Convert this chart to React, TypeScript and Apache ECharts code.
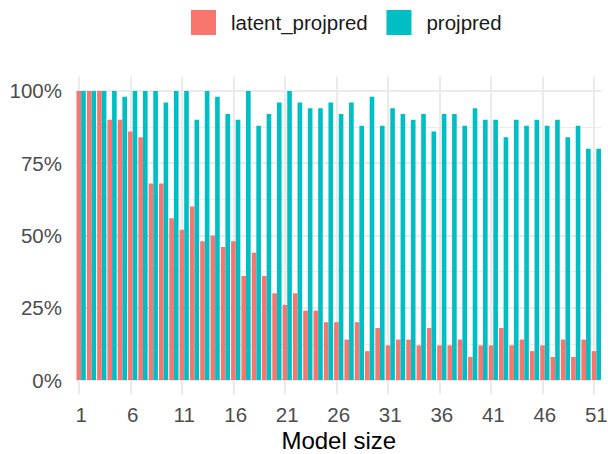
import React, { useEffect, useRef } from "react";
import * as echarts from "echarts";

const categories = [
  "1", "2", "3", "4", "5", "6", "7", "8", "9", "10",
  "11", "12", "13", "14", "15", "16", "17", "18", "19", "20",
  "21", "22", "23", "24", "25", "26", "27", "28", "29", "30",
  "31", "32", "33", "34", "35", "36", "37", "38", "39", "40",
  "41", "42", "43", "44", "45", "46", "47", "48", "49", "50", "51",
];

const latentProjpred = [
  100, 100, 100, 90, 90, 86, 84, 68, 68, 56,
  52, 60, 48, 50, 46, 48, 36, 44, 36, 30,
  26, 30, 24, 24, 20, 20, 14, 20, 10, 18,
  12, 14, 14, 12, 18, 12, 12, 14, 8, 12,
  12, 18, 12, 14, 10, 12, 8, 14, 8, 14, 10,
];

const projpred = [
  100, 100, 100, 100, 98, 100, 100, 100, 96, 100,
  100, 90, 100, 98, 92, 90, 100, 88, 92, 96,
  100, 96, 94, 94, 96, 92, 96, 88, 98, 88,
  94, 92, 90, 92, 86, 92, 92, 88, 94, 90,
  90, 84, 90, 88, 90, 88, 90, 84, 88, 80, 80,
];

const seriesNames = ["latent_projpred", "projpred"];
const yTickValues = [0, 25, 50, 75, 100];
const yMinorBreaks = [12.5, 37.5, 62.5, 87.5];
const xTickLabels = ["1", "6", "11", "16", "21", "26", "31", "36", "41", "46", "51"];

export default function App() {
  const ref = useRef<HTMLDivElement>(null);

  useEffect(() => {
    if (!ref.current) return;
    const chart = echarts.init(ref.current, null, { renderer: "svg" });
    const gridColor = "#EBEBEB";
    const markData: any[] = [
      ...yMinorBreaks.map((v) => ({ yAxis: v, lineStyle: { width: 1 } })),
      ...yTickValues.map((v) => ({ yAxis: v, lineStyle: { width: 2 } })),
      ...xTickLabels.map((v) => ({ xAxis: v, lineStyle: { width: 2 } })),
    ];
    chart.setOption({
      animation: false,
      textStyle: { fontFamily: "'Liberation Sans', Arial, sans-serif" },
      legend: {
        data: seriesNames,
        left: 191,
        top: 10,
        padding: 0,
        itemWidth: 25,
        itemHeight: 25,
        itemGap: 18.7,
        icon: "rect",
        selectedMode: false,
        textStyle: { fontSize: 20.5, color: "#1A1A1A", padding: [0, 0, 0, 10] },
      },
      grid: {
        left: 76,
        right: 6.5,
        top: 76.5,
        bottom: 59.5,
        containLabel: false,
        outerBoundsMode: "none",
      },
      xAxis: {
        type: "category",
        data: categories,
        boundaryGap: true,
        axisLine: { show: false },
        axisTick: { show: false },
        splitLine: { show: false },
        axisLabel: { interval: 4, fontSize: 20.5, color: "#4D4D4D", margin: 9 },
        name: "Model size",
        nameLocation: "middle",
        nameGap: 33.5,
        nameMoveOverlap: false,
        nameTextStyle: { fontSize: 24, color: "#000000" },
      },
      yAxis: {
        type: "value",
        min: -5,
        max: 105,
        axisLine: { show: false },
        axisTick: { show: false },
        splitLine: { show: false },
        axisLabel: {
          customValues: yTickValues,
          formatter: "{value}%",
          fontSize: 20.5,
          color: "#4D4D4D",
          margin: 14,
        },
      },
      series: [
        {
          name: seriesNames[0],
          type: "bar",
          data: latentProjpred,
          itemStyle: { color: "#F8766D" },
          barGap: "0%",
          barCategoryGap: "10%",
          z: 2,
          markLine: {
            silent: true,
            symbol: "none",
            z: 1,
            animation: false,
            label: { show: false },
            emphasis: { disabled: true },
            lineStyle: { color: gridColor, type: "solid" },
            data: markData,
          },
        },
        {
          name: seriesNames[1],
          type: "bar",
          data: projpred,
          itemStyle: { color: "#00BFC4" },
          barGap: "0%",
          barCategoryGap: "10%",
          z: 2,
        },
      ],
    });
    return () => chart.dispose();
  }, []);

  return (
    <div
      ref={ref}
      style={{ position: "absolute", left: 0, top: 0, width: 608, height: 454, background: "#FFFFFF" }}
    />
  );
}
